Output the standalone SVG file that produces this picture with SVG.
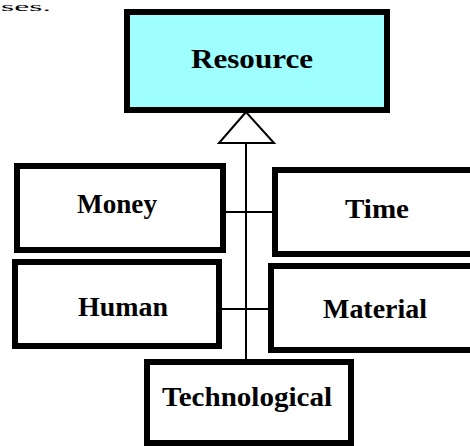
<svg xmlns="http://www.w3.org/2000/svg" width="470" height="446" viewBox="0 0 470 446">
<style>
.box{fill:#fff;stroke:#000;stroke-width:6}
.top{fill:#9fffff}
.lbl{font-family:"Liberation Serif","Times New Roman",serif;font-weight:bold;font-size:28px;fill:#000;text-anchor:middle}
.conn{stroke:#000;stroke-width:2;fill:none}
</style>
<rect width="470" height="446" fill="#fff"/>
<text x="1" y="11" font-family="Liberation Serif, serif" font-size="12" textLength="50" lengthAdjust="spacingAndGlyphs">ses.</text>
<g id="connectors">
<line class="conn" x1="246" y1="143" x2="246" y2="360"/>
<line class="conn" x1="226" y1="212" x2="272" y2="212"/>
<line class="conn" x1="222" y1="309" x2="268" y2="309"/>
<polygon points="246,112 219,143 274,143" fill="#fff" stroke="#000" stroke-width="2"/>
</g>
<g id="resource">
<rect class="box top" x="127" y="12" width="260" height="98"/>
<text class="lbl" x="252" y="68" font-size="30" textLength="122" lengthAdjust="spacingAndGlyphs">Resource</text>
</g>
<g id="money">
<rect class="box" x="17" y="166" width="206" height="84"/>
<text class="lbl" x="117" y="213" textLength="80" lengthAdjust="spacingAndGlyphs">Money</text>
</g>
<g id="time">
<rect class="box" x="275" y="170" width="210" height="84"/>
<text class="lbl" x="377" y="218" textLength="64" lengthAdjust="spacingAndGlyphs">Time</text>
</g>
<g id="human">
<rect class="box" x="15" y="262" width="204" height="84"/>
<text class="lbl" x="123" y="316" textLength="90" lengthAdjust="spacingAndGlyphs">Human</text>
</g>
<g id="material">
<rect class="box" x="271" y="266" width="214" height="84"/>
<text class="lbl" x="375" y="318" textLength="104" lengthAdjust="spacingAndGlyphs">Material</text>
</g>
<g id="technological">
<rect class="box" x="147" y="362" width="204" height="81"/>
<text class="lbl" x="247" y="406" textLength="170" lengthAdjust="spacingAndGlyphs">Technological</text>
</g>
</svg>
